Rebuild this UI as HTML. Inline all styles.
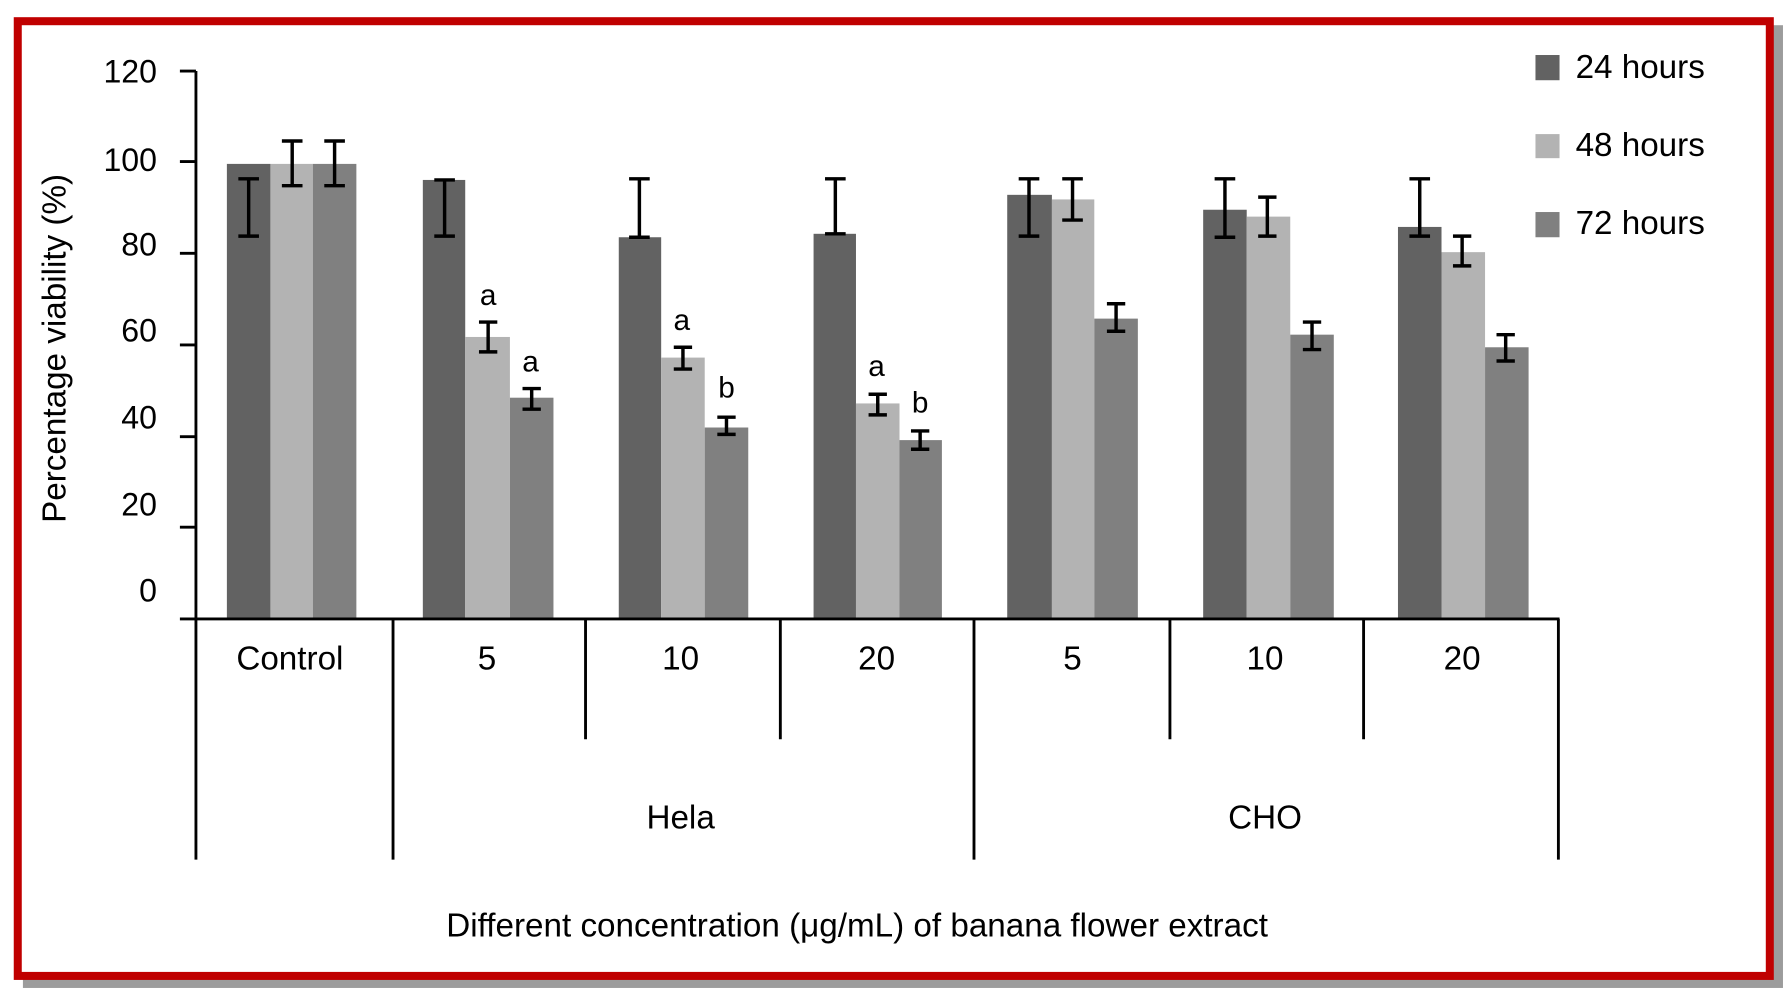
<!DOCTYPE html>
<html><head><style>html,body{margin:0;padding:0;background:#fff;}svg{display:block}</style></head>
<body>
<svg width="1791" height="1004" viewBox="0 0 1563 876" preserveAspectRatio="none" xmlns="http://www.w3.org/2000/svg" font-family="Liberation Sans, Arial, sans-serif">
<rect x="0" y="0" width="1563" height="876" fill="#fff"/>
<rect x="20" y="22" width="1536" height="840" fill="#9c9c9c"/>
<rect x="15.5" y="18.5" width="1529" height="833" fill="#fff" stroke="#c00000" stroke-width="7"/>
<g id="bars">
<rect x="198" y="143" width="38" height="397" fill="#626262"/>
<rect x="236" y="143" width="37" height="397" fill="#b3b3b3"/>
<rect x="273" y="143" width="38" height="397" fill="#808080"/>
<rect x="369" y="157" width="37" height="383" fill="#626262"/>
<rect x="406" y="294" width="39" height="246" fill="#b3b3b3"/>
<rect x="445" y="347" width="38" height="193" fill="#808080"/>
<rect x="540" y="207" width="37" height="333" fill="#626262"/>
<rect x="577" y="312" width="38" height="228" fill="#b3b3b3"/>
<rect x="615" y="373" width="38" height="167" fill="#808080"/>
<rect x="710" y="204" width="37" height="336" fill="#626262"/>
<rect x="747" y="352" width="38" height="188" fill="#b3b3b3"/>
<rect x="785" y="384" width="37" height="156" fill="#808080"/>
<rect x="879" y="170" width="39" height="370" fill="#626262"/>
<rect x="918" y="174" width="37" height="366" fill="#b3b3b3"/>
<rect x="955" y="278" width="38" height="262" fill="#808080"/>
<rect x="1050" y="183" width="38" height="357" fill="#626262"/>
<rect x="1088" y="189" width="38" height="351" fill="#b3b3b3"/>
<rect x="1126" y="292" width="38" height="248" fill="#808080"/>
<rect x="1220" y="198" width="38" height="342" fill="#626262"/>
<rect x="1258" y="220" width="38" height="320" fill="#b3b3b3"/>
<rect x="1296" y="303" width="38" height="237" fill="#808080"/>
</g>
<g stroke="#000" stroke-width="3" fill="none">
<path d="M217 156V206M208 156H226M208 206H226"/>
<path d="M255 123V162M246 123H264M246 162H264"/>
<path d="M292 123V162M283 123H301M283 162H301"/>
<path d="M388 157V206M379 157H397M379 206H397"/>
<path d="M426 281V307M418 281H434M418 307H434"/>
<path d="M464 339V357M456 339H472M456 357H472"/>
<path d="M558 156V207M549 156H567M549 207H567"/>
<path d="M596 303V322M588 303H604M588 322H604"/>
<path d="M634 364V379M626 364H642M626 379H642"/>
<path d="M729 156V204M720 156H738M720 204H738"/>
<path d="M766 344V362M758 344H774M758 362H774"/>
<path d="M803 376V392M795 376H811M795 392H811"/>
<path d="M898 156V206M889 156H907M889 206H907"/>
<path d="M936 156V192M927 156H945M927 192H945"/>
<path d="M974 265V289M966 265H982M966 289H982"/>
<path d="M1069 156V207M1060 156H1078M1060 207H1078"/>
<path d="M1106 172V206M1098 172H1114M1098 206H1114"/>
<path d="M1145 281V305M1137 281H1153M1137 305H1153"/>
<path d="M1239 156V206M1230 156H1248M1230 206H1248"/>
<path d="M1276 206V232M1268 206H1284M1268 232H1284"/>
<path d="M1314 292V315M1306 292H1322M1306 315H1322"/>
</g>
<g stroke="#000" stroke-width="2.5" fill="none">
<path d="M171 62V750"/>
<path d="M157 62H171M157 141H171M157 221H171M157 301H171M157 381H171M157 460H171"/>
<path d="M157 540H1361"/>
<path d="M343 540V750M850 540V750M1360 540V750"/>
<path d="M511 540V645M681 540V645M1021 540V645M1190 540V645"/>
</g>
<g font-size="28" text-anchor="end" fill="#000">
<text x="137" y="72">120</text>
<text x="137" y="149">100</text>
<text x="137" y="223">80</text>
<text x="137" y="298">60</text>
<text x="137" y="374">40</text>
<text x="137" y="450">20</text>
<text x="137" y="525">0</text>
</g>
<g font-size="26" text-anchor="middle" fill="#000">
<text x="426" y="266">a</text>
<text x="463" y="324">a</text>
<text x="595" y="288">a</text>
<text x="634" y="347">b</text>
<text x="765" y="328">a</text>
<text x="803" y="360">b</text>
</g>
<g font-size="29" text-anchor="middle" fill="#000">
<text x="253" y="584">Control</text>
<text x="425" y="584">5</text>
<text x="594" y="584">10</text>
<text x="765" y="584">20</text>
<text x="936" y="584">5</text>
<text x="1104" y="584">10</text>
<text x="1276" y="584">20</text>
<text x="594" y="723">Hela</text>
<text x="1104" y="723">CHO</text>
<text x="748" y="817">Different concentration (μg/mL) of banana flower extract</text>
<text transform="translate(57,304) rotate(-90)">Percentage viability (%)</text>
</g>
<rect x="1340" y="48" width="21" height="22" fill="#626262"/>
<rect x="1340" y="117" width="21" height="21" fill="#b3b3b3"/>
<rect x="1340" y="185" width="21" height="22" fill="#808080"/>
<g font-size="29" fill="#000">
<text x="1375" y="68">24 hours</text>
<text x="1375" y="136">48 hours</text>
<text x="1375" y="204">72 hours</text>
</g>
</svg>
</body></html>
